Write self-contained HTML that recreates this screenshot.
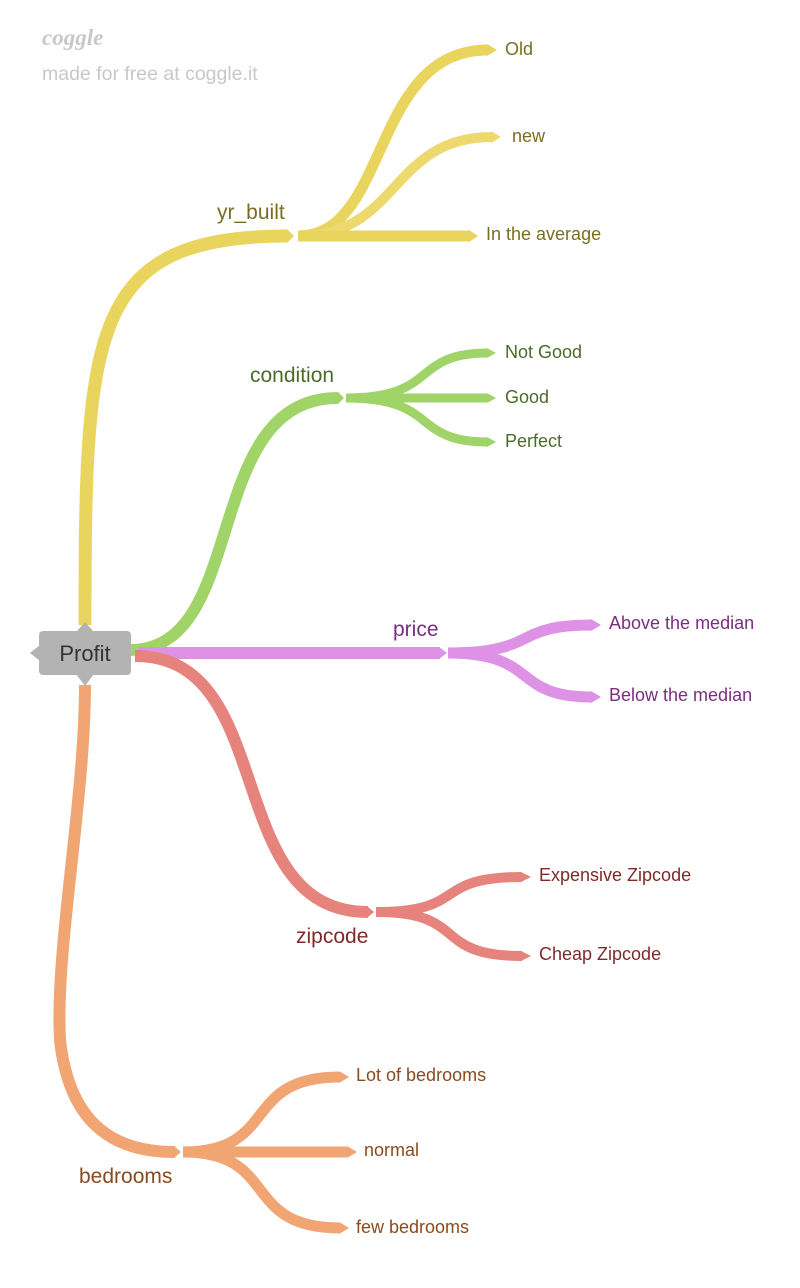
<!DOCTYPE html>
<html><head><meta charset="utf-8"><style>
body{margin:0;background:#fff;}
svg{display:block;font-family:"Liberation Sans",sans-serif;}
</style></head><body>
<svg width="800" height="1288" viewBox="0 0 800 1288" xmlns="http://www.w3.org/2000/svg">
<text x="42" y="45" font-size="23" font-style="italic" font-weight="bold" fill="#c8c8c8" font-family="'Liberation Serif',serif">coggle</text>
<text x="42" y="80" font-size="19.5" fill="#c8c8c8">made for free at coggle.it</text>
<g fill="none" stroke-linecap="butt">
<g stroke="#e9d55e">
<path d="M85,625 C85,330 90,236 288,236" stroke-width="13"/>
<path d="M298,236 C390,236 370,50 488,50" stroke-width="11"/>
<path d="M298,236 C400,236 390,137 492,137" stroke-width="10" stroke="#eed96e"/>
<path d="M298,236 L470,236" stroke-width="11"/>
</g>
<g stroke="#a0d468">
<path d="M130,650 C250,650 200,398 338,398" stroke-width="12"/>
<path d="M346,398 C440,398 410,353 488,353" stroke-width="9"/>
<path d="M346,398 L488,398" stroke-width="9"/>
<path d="M346,398 C440,398 410,442 488,442" stroke-width="9"/>
</g>
<g stroke="#dd92e6">
<path d="M138,653 L440,653" stroke-width="12"/>
<path d="M448,653 C540,653 510,625 592,625" stroke-width="11"/>
<path d="M448,653 C540,653 510,697 592,697" stroke-width="11"/>
</g>
<g stroke="#e6837c">
<path d="M135,656 C280,656 220,912 368,912" stroke-width="12"/>
<path d="M376,912 C470,912 430,877 522,877" stroke-width="10"/>
<path d="M376,912 C470,912 430,956 522,956" stroke-width="10"/>
</g>
<g stroke="#f0a572">
<path d="M85,685 C85,800 55,950 60,1040 C70,1130 120,1152 175,1152" stroke-width="12"/>
<path d="M183,1152 C280,1152 240,1077 340,1077" stroke-width="11"/>
<path d="M183,1152 L348,1152" stroke-width="11"/>
<path d="M183,1152 C280,1152 240,1228 340,1228" stroke-width="11"/>
</g>
</g>
<g>
<polygon points="288,230 294,236 288,242" fill="#e9d55e"/>
<polygon points="487,44 497,50 487,56" fill="#e9d55e"/>
<polygon points="491,131 501,137 491,143" fill="#eed96e"/>
<polygon points="469,230 478,236 469,242" fill="#e9d55e"/>
<polygon points="338,392 344,398 338,404" fill="#a0d468"/>
<polygon points="487,348 496,353 487,358" fill="#a0d468"/>
<polygon points="487,393 496,398 487,403" fill="#a0d468"/>
<polygon points="487,437 496,442 487,447" fill="#a0d468"/>
<polygon points="439,647 447,653 439,659" fill="#dd92e6"/>
<polygon points="591,619 601,625 591,631" fill="#dd92e6"/>
<polygon points="591,691 601,697 591,703" fill="#dd92e6"/>
<polygon points="367,906 374,912 367,918" fill="#e6837c"/>
<polygon points="521,872 531,877 521,882" fill="#e6837c"/>
<polygon points="521,951 531,956 521,961" fill="#e6837c"/>
<polygon points="174,1146 181,1152 174,1158" fill="#f0a572"/>
<polygon points="339,1071 349,1077 339,1083" fill="#f0a572"/>
<polygon points="347,1146 357,1152 347,1158" fill="#f0a572"/>
<polygon points="339,1222 349,1228 339,1234" fill="#f0a572"/>
</g>
<rect x="39" y="631" width="92" height="44" rx="4" fill="#b3b3b3"/>
<polygon points="30,653 40,645 40,661" fill="#b3b3b3"/>
<polygon points="76,632 85,622 94,632" fill="#b3b3b3"/>
<polygon points="76,674 85,686 94,674" fill="#b3b3b3"/>
<text x="85" y="661" font-size="22" fill="#333" text-anchor="middle">Profit</text>
<g font-size="21">
<text x="217" y="219" fill="#7a6e1e">yr_built</text>
<text x="250" y="382" fill="#4a6b2b">condition</text>
<text x="393" y="636" fill="#7a2e80">price</text>
<text x="296" y="943" fill="#7f2a28">zipcode</text>
<text x="79" y="1183" fill="#8a4a1f">bedrooms</text>
</g>
<g font-size="18">
<text x="505" y="55" fill="#7a6e1e">Old</text>
<text x="512" y="142" fill="#7a6e1e">new</text>
<text x="486" y="240" fill="#7a6e1e">In the average</text>
<text x="505" y="358" fill="#4a6b2b">Not Good</text>
<text x="505" y="403" fill="#4a6b2b">Good</text>
<text x="505" y="447" fill="#4a6b2b">Perfect</text>
<text x="609" y="629" fill="#7a2e80">Above the median</text>
<text x="609" y="701" fill="#7a2e80">Below the median</text>
<text x="539" y="881" fill="#7f2a28">Expensive Zipcode</text>
<text x="539" y="960" fill="#7f2a28">Cheap Zipcode</text>
<text x="356" y="1081" fill="#8a4a1f">Lot of bedrooms</text>
<text x="364" y="1156" fill="#8a4a1f">normal</text>
<text x="356" y="1233" fill="#8a4a1f">few bedrooms</text>
</g>
</svg>
</body></html>
